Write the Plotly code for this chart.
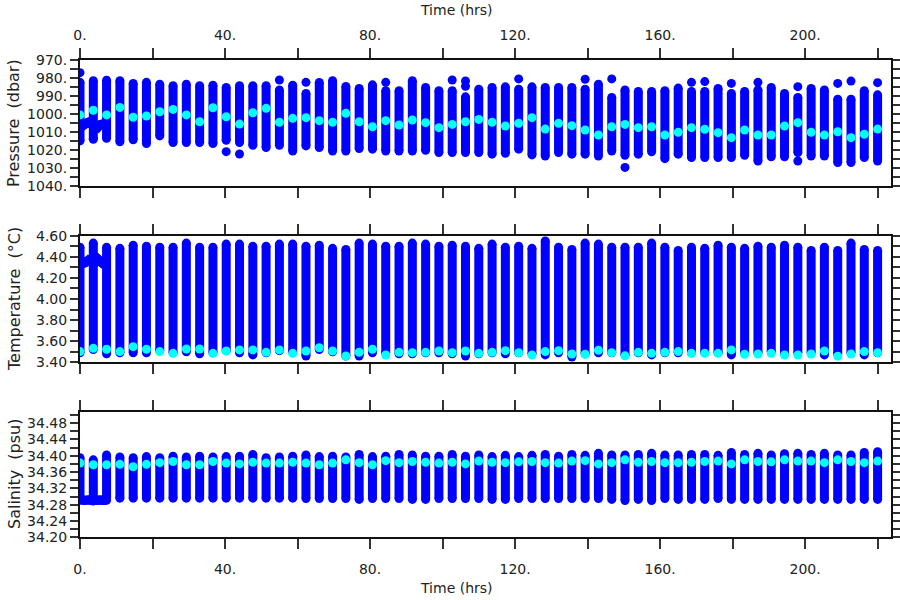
import plotly.graph_objects as go

# ---------------- data ----------------
prof_time = [0.0, 3.67, 7.33, 11.0, 14.67, 18.33, 22.0, 25.67, 29.33, 33.0,
             36.67, 40.33, 44.0, 47.67, 51.33, 55.0, 58.67, 62.33, 66.0, 69.67,
             73.33, 77.0, 80.67, 84.33, 88.0, 91.67, 95.33, 99.0, 102.67, 106.33,
             110.0, 113.67, 117.33, 121.0, 124.67, 128.33, 132.0, 135.67, 139.33, 143.0,
             146.67, 150.33, 154.0, 157.67, 161.33, 165.0, 168.67, 172.33, 176.0, 179.67,
             183.33, 187.0, 190.67, 194.33, 198.0, 201.67, 205.33, 209.0, 212.67, 216.33,
             220.0]

# pressure (dbar): shallowest / deepest sample of each profile, and reference (cyan) value
pres_top = [982.3, 981.4, 981.1, 981.4, 982.9, 982.3, 983.3, 984.2, 983.3, 984.2,
            983.9, 985.2, 984.2, 984.2, 984.2, 986.6, 983.9, 988.5, 982.4, 981.4,
            984.6, 985.7, 983.7, 987.0, 987.0, 981.4, 985.2, 987.0, 987.0, 990.4,
            986.1, 985.2, 984.8, 986.1, 984.8, 985.2, 985.2, 985.2, 986.1, 983.3,
            990.7, 986.6, 987.4, 987.4, 987.0, 985.5, 987.4, 987.4, 985.7, 988.5,
            987.4, 986.5, 985.2, 988.5, 990.7, 985.7, 986.6, 991.7, 991.7, 987.0,
            989.3]
pres_bot = [1015.0, 1014.1, 1013.5, 1015.5, 1014.4, 1016.5, 1012.2, 1015.9, 1015.9, 1015.9,
            1016.5, 1014.6, 1015.9, 1017.4, 1018.7, 1017.4, 1020.6, 1017.8, 1018.7, 1020.6,
            1020.6, 1019.3, 1019.6, 1020.6, 1020.6, 1020.6, 1020.2, 1021.5, 1021.5, 1021.5,
            1021.5, 1022.4, 1021.9, 1019.6, 1022.8, 1023.4, 1021.5, 1022.4, 1022.4, 1023.4,
            1020.6, 1023.0, 1022.4, 1021.1, 1024.9, 1022.4, 1024.3, 1024.3, 1024.3, 1024.3,
            1023.0, 1026.2, 1023.9, 1023.9, 1021.5, 1023.4, 1023.4, 1027.1, 1027.1, 1024.3,
            1026.2]
pres_ref = [1000.5, 997.9, 1000.5, 996.3, 1001.8, 1001.1, 998.7, 997.4, 1000.5, 1004.3,
            996.5, 1001.5, 1005.6, 999.3, 996.8, 1004.6, 1002.4, 1002.0, 1003.7, 1004.6,
            999.6, 1004.3, 1007.1, 1003.7, 1006.1, 1003.3, 1004.8, 1007.6, 1005.8, 1004.3,
            1003.0, 1004.6, 1006.7, 1005.2, 1002.0, 1008.4, 1005.2, 1006.5, 1008.9, 1011.7,
            1007.1, 1005.8, 1007.6, 1007.1, 1011.7, 1010.2, 1007.6, 1008.5, 1010.4, 1013.2,
            1008.9, 1011.7, 1011.7, 1006.7, 1004.8, 1010.2, 1011.7, 1009.9, 1013.2, 1011.3,
            1008.4]
# isolated pressure samples detached from their profile (profile index, value)
pres_extra_idx = [0, 11, 12, 15, 17, 23, 28, 29, 29, 33, 38, 40, 41, 46, 47, 49, 51, 54, 54, 57, 58, 60]
pres_extra_val = [976.9, 1021.0, 1022.3, 981.0, 982.3, 982.3, 981.0, 981.5, 984.5, 980.4, 980.6,
                  980.4, 1029.8, 982.3, 981.9, 982.9, 982.3, 984.7, 1026.2, 982.9, 981.6, 982.5]

# temperature (degC)
temp_top = [4.49, 4.53, 4.49, 4.48, 4.51, 4.50, 4.49, 4.49, 4.53, 4.49,
            4.49, 4.52, 4.52, 4.50, 4.50, 4.52, 4.52, 4.50, 4.51, 4.48,
            4.47, 4.53, 4.52, 4.50, 4.50, 4.53, 4.52, 4.50, 4.51, 4.50,
            4.48, 4.52, 4.49, 4.50, 4.48, 4.55, 4.49, 4.47, 4.53, 4.52,
            4.49, 4.49, 4.49, 4.53, 4.49, 4.46, 4.49, 4.48, 4.51, 4.49,
            4.48, 4.50, 4.49, 4.51, 4.49, 4.46, 4.49, 4.46, 4.53, 4.47,
            4.46]
temp_bot = [3.49, 3.52, 3.48, 3.49, 3.49, 3.49, 3.51, 3.49, 3.50, 3.48,
            3.49, 3.51, 3.49, 3.47, 3.49, 3.51, 3.50, 3.46, 3.52, 3.50,
            3.46, 3.46, 3.49, 3.49, 3.48, 3.48, 3.49, 3.49, 3.48, 3.46,
            3.48, 3.49, 3.48, 3.49, 3.48, 3.47, 3.49, 3.45, 3.48, 3.49,
            3.49, 3.47, 3.49, 3.47, 3.49, 3.49, 3.49, 3.49, 3.49, 3.47,
            3.49, 3.49, 3.50, 3.48, 3.49, 3.49, 3.47, 3.48, 3.49, 3.47,
            3.49]
temp_ref = [3.501, 3.532, 3.523, 3.501, 3.548, 3.523, 3.501, 3.485, 3.526, 3.526,
            3.485, 3.507, 3.517, 3.517, 3.494, 3.517, 3.485, 3.507, 3.538, 3.507,
            3.460, 3.495, 3.523, 3.469, 3.494, 3.491, 3.494, 3.507, 3.491, 3.507,
            3.485, 3.494, 3.510, 3.491, 3.469, 3.501, 3.510, 3.479, 3.476, 3.514,
            3.491, 3.461, 3.494, 3.485, 3.494, 3.501, 3.485, 3.485, 3.485, 3.517,
            3.476, 3.479, 3.485, 3.469, 3.469, 3.479, 3.507, 3.458, 3.479, 3.501,
            3.491]

# salinity (psu)
sal_top = [34.395, 34.390, 34.402, 34.397, 34.395, 34.398, 34.395, 34.399, 34.397, 34.399,
           34.397, 34.398, 34.399, 34.403, 34.395, 34.397, 34.399, 34.402, 34.398, 34.399,
           34.397, 34.403, 34.398, 34.399, 34.403, 34.402, 34.399, 34.399, 34.403, 34.399,
           34.402, 34.398, 34.401, 34.398, 34.401, 34.403, 34.399, 34.403, 34.401, 34.406,
           34.402, 34.402, 34.403, 34.406, 34.402, 34.402, 34.403, 34.403, 34.401, 34.408,
           34.403, 34.406, 34.402, 34.405, 34.406, 34.403, 34.406, 34.402, 34.402, 34.408,
           34.410]
sal_bot = [34.295, 34.290, 34.298, 34.296, 34.296, 34.296, 34.296, 34.296, 34.296, 34.296,
           34.296, 34.296, 34.296, 34.296, 34.296, 34.296, 34.296, 34.295, 34.295, 34.295,
           34.295, 34.293, 34.295, 34.295, 34.295, 34.293, 34.293, 34.295, 34.295, 34.295,
           34.295, 34.293, 34.293, 34.295, 34.295, 34.295, 34.295, 34.295, 34.295, 34.295,
           34.293, 34.290, 34.293, 34.290, 34.295, 34.293, 34.293, 34.293, 34.295, 34.293,
           34.293, 34.293, 34.293, 34.293, 34.293, 34.293, 34.293, 34.293, 34.293, 34.293,
           34.293]
sal_ref = [34.382, 34.378, 34.378, 34.379, 34.373, 34.379, 34.383, 34.386, 34.378, 34.378,
           34.386, 34.382, 34.380, 34.384, 34.382, 34.382, 34.384, 34.382, 34.378, 34.382,
           34.390, 34.383, 34.378, 34.388, 34.383, 34.386, 34.384, 34.382, 34.384, 34.380,
           34.387, 34.384, 34.383, 34.385, 34.386, 34.383, 34.382, 34.387, 34.388, 34.380,
           34.383, 34.390, 34.384, 34.386, 34.383, 34.383, 34.384, 34.386, 34.387, 34.380,
           34.390, 34.386, 34.385, 34.390, 34.387, 34.387, 34.383, 34.390, 34.386, 34.383,
           34.387]

# continuous (parked) samples recorded between the first profiles
park_time = [0.0, 0.6, 1.2, 1.8, 2.4, 3.0, 3.67, 4.3, 4.9, 5.5, 6.1, 6.7, 7.33]
park_pres = [1004.0, 1005.5, 1006.0, 1005.0, 1004.5, 1005.5, 1006.5, 1008.0, 1007.5, 1006.0,
             1005.5, 1006.0, 1005.0]
park_temp = [4.38, 4.36, 4.34, 4.35, 4.37, 4.36, 4.33, 4.36, 4.38, 4.36, 4.34, 4.35, 4.36]
park_sal = [34.292, 34.291, 34.290, 34.291, 34.292, 34.291, 34.289, 34.290, 34.291, 34.292,
            34.291, 34.290, 34.291]

# axes ticks / labels
time_ticks = [0, 20, 40, 60, 80, 100, 120, 140, 160, 180, 200, 220]
time_labels = ["0.", "", "40.", "", "80.", "", "120.", "", "160.", "", "200.", ""]
pres_ticks = [970, 975, 980, 985, 990, 995, 1000, 1005, 1010, 1015, 1020, 1025, 1030, 1035, 1040]
pres_labels = ["970.", "", "980.", "", "990.", "", "1000.", "", "1010.", "", "1020.", "",
               "1030.", "", "1040."]
temp_ticks = [3.4, 3.5, 3.6, 3.7, 3.8, 3.9, 4.0, 4.1, 4.2, 4.3, 4.4, 4.5, 4.6]
temp_labels = ["3.40", "", "3.60", "", "3.80", "", "4.00", "", "4.20", "", "4.40", "", "4.60"]
sal_ticks = [34.20, 34.22, 34.24, 34.26, 34.28, 34.30, 34.32, 34.34, 34.36, 34.38,
             34.40, 34.42, 34.44, 34.46, 34.48, 34.50]
sal_labels = ["34.20", "", "34.24", "", "34.28", "", "34.32", "", "34.36", "",
              "34.40", "", "34.44", "", "34.48", ""]

# ---------------- figure ----------------
BLUE = "#0000ff"
CYAN = "#00ffff"
MS = 9

fig = go.Figure()


def add_panel(xa, ya, tops, bots, refs, park, extra_idx=None, extra_val=None):
    xs, ys = [], []
    for t, a, b in zip(prof_time, tops, bots):
        xs += [t, t, None]
        ys += [a, b, None]
    fig.add_trace(go.Scatter(x=xs, y=ys, mode="lines+markers", xaxis=xa, yaxis=ya,
                             line=dict(color=BLUE, width=MS),
                             marker=dict(color=BLUE, size=MS), showlegend=False,
                             hoverinfo="skip"))
    fig.add_trace(go.Scatter(x=park_time, y=park, mode="lines+markers", xaxis=xa, yaxis=ya,
                             line=dict(color=BLUE, width=MS),
                             marker=dict(color=BLUE, size=MS), showlegend=False,
                             hoverinfo="skip"))
    if extra_idx:
        fig.add_trace(go.Scatter(x=[prof_time[i] for i in extra_idx], y=extra_val,
                                 mode="markers", xaxis=xa, yaxis=ya,
                                 marker=dict(color=BLUE, size=MS), showlegend=False,
                                 hoverinfo="skip"))
    fig.add_trace(go.Scatter(x=prof_time, y=refs, mode="markers", xaxis=xa, yaxis=ya,
                             marker=dict(color=CYAN, size=MS), showlegend=False,
                             hoverinfo="skip"))


add_panel("x", "y", pres_top, pres_bot, pres_ref, park_pres, pres_extra_idx, pres_extra_val)
add_panel("x2", "y2", temp_top, temp_bot, temp_ref, park_temp)
add_panel("x3", "y3", sal_top, sal_bot, sal_ref, park_sal)

FONT = dict(family="DejaVu Sans", size=14, color="#222222")
axis_common = dict(showline=True, linewidth=2, linecolor="#111111", mirror="ticks",
                   ticks="outside", tickcolor="#333333", tickwidth=1.5, automargin=False,
                   showgrid=False, zeroline=False, tickfont=FONT)

xrange = [0, 223.7]
fig.update_layout(
    width=900, height=600,
    margin=dict(l=80, r=9, t=0, b=0, autoexpand=False),
    paper_bgcolor="white", plot_bgcolor="white",
    font=FONT,
    xaxis=dict(axis_common, domain=[0, 1], range=xrange, anchor="y", side="top",
               tickvals=time_ticks, ticktext=time_labels, ticklen=10, ticklabelstandoff=3),
    xaxis2=dict(axis_common, domain=[0, 1], range=xrange, anchor="y2",
                tickvals=time_ticks, ticktext=time_labels, ticklen=10, showticklabels=False),
    xaxis3=dict(axis_common, domain=[0, 1], range=xrange, anchor="y3", side="bottom",
                tickvals=time_ticks, ticktext=time_labels, ticklen=10, ticklabelstandoff=8),
    yaxis=dict(axis_common, domain=[0.6905, 0.8995], range=[1040, 970], anchor="x",
               tickvals=pres_ticks, ticktext=pres_labels, ticklen=8),
    yaxis2=dict(axis_common, domain=[0.3962, 0.6072], range=[3.40, 4.60], anchor="x2",
                tickvals=temp_ticks, ticktext=temp_labels, ticklen=8),
    yaxis3=dict(axis_common, domain=[0.1045, 0.3138], range=[34.20, 34.508], anchor="x3",
                tickvals=sal_ticks, ticktext=sal_labels, ticklen=8),
)

title_font = dict(family="DejaVu Sans", size=14, color="#222222")
ytitle_font = dict(family="DejaVu Sans", size=16, color="#222222")
xt = (456 - 80) / 811
fig.add_annotation(text="Time (hrs)", xref="paper", yref="paper", x=xt, y=1 - 10 / 600,
                   showarrow=False, font=title_font, xanchor="center", yanchor="middle")
fig.add_annotation(text="Time (hrs)", xref="paper", yref="paper", x=xt, y=1 - 588 / 600,
                   showarrow=False, font=title_font, xanchor="center", yanchor="middle")
yx = (14 - 80) / 811
for txt, yc in [("Pressure  (dbar)", 123), ("Temperature  (°C)", 299), ("Salinity  (psu)", 474)]:
    fig.add_annotation(text=txt, xref="paper", yref="paper", x=yx, y=1 - yc / 600,
                       showarrow=False, font=ytitle_font, textangle=-90,
                       xanchor="center", yanchor="middle")

# the page's default 8px body margin would shift the 900x600 figure; remove it
fig.write_html("out.html", config={"displayModeBar": False},
               post_script="document.body.style.margin='0px';")
